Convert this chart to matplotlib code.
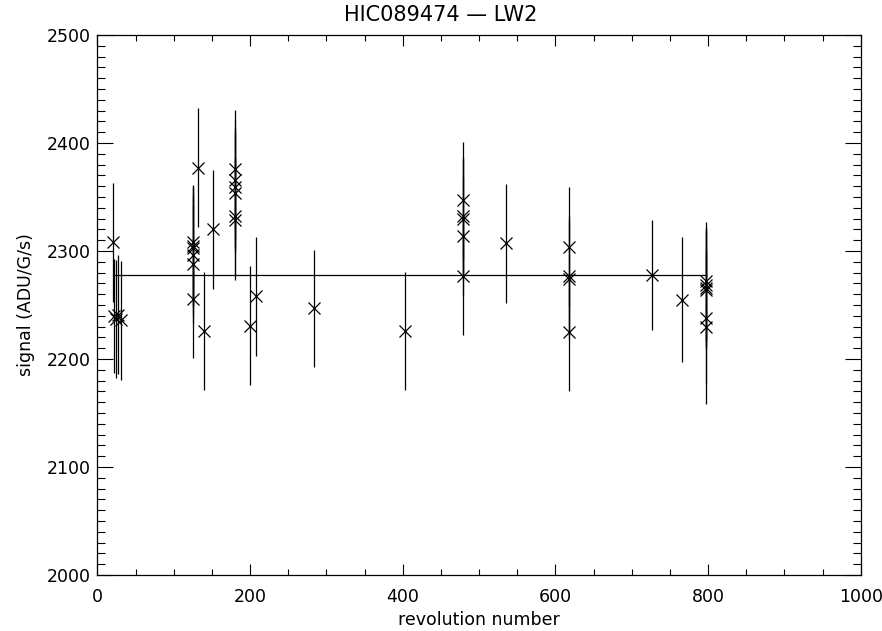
import matplotlib
matplotlib.use("Agg")
import matplotlib.pyplot as plt
from matplotlib.ticker import MultipleLocator
import numpy as np

# revolution number, signal and 1-sigma error
rev = [20, 22, 24, 27, 31,
       125, 125, 125, 125, 125, 125,
       132, 139, 152,
       180, 180, 180, 180, 180, 180,
       200, 208, 284, 403,
       479, 479, 479, 479, 479,
       535,
       618, 618, 618, 618,
       726, 766,
       797, 797, 797, 797, 797, 797]
signal = [2308, 2240, 2237, 2241, 2236,
          2308, 2305, 2303, 2296, 2288, 2256,
          2377, 2226, 2320,
          2376, 2366, 2359, 2354, 2332, 2329,
          2231, 2258, 2247, 2226,
          2347, 2332, 2330, 2314, 2277,
          2307,
          2304, 2277, 2274, 2225,
          2278, 2255,
          2272, 2269, 2266, 2264, 2238, 2230]
error = [55, 53, 55, 55, 55,
         53, 55, 55, 55, 55, 55,
         55, 55, 55,
         55, 55, 55, 55, 55, 56,
         55, 55, 54, 55,
         54, 55, 55, 55, 55,
         55,
         55, 55, 55, 55,
         51, 58,
         55, 52, 55, 55, 60, 72]
mean_level = 2278

title = "HIC089474 \u2014 LW2"

fig = plt.figure(figsize=(8.82, 6.31), dpi=100)
ax = fig.add_axes([0.1105, 0.0887, 0.8655, 0.8558])

ax.errorbar(rev, signal, yerr=error, fmt="none", ecolor="black", elinewidth=0.9)
ax.plot(rev, signal, linestyle="none", marker="x", markersize=9,
        markeredgewidth=0.9, color="black")
ax.plot([min(rev), max(rev)], [mean_level, mean_level], color="black", lw=0.9)

ax.set_xlim(0, 1000)
ax.set_ylim(2000, 2500)
ax.xaxis.set_major_locator(MultipleLocator(200))
ax.xaxis.set_minor_locator(MultipleLocator(50))
ax.yaxis.set_major_locator(MultipleLocator(100))
ax.yaxis.set_minor_locator(MultipleLocator(10))

ax.tick_params(axis="both", which="both", direction="in", top=True, right=True,
               colors="black", labelsize=12.5, width=0.8)
ax.tick_params(axis="x", which="major", length=8, pad=9)
ax.tick_params(axis="x", which="minor", length=4)
ax.tick_params(axis="y", which="major", length=11.5, pad=5)
ax.tick_params(axis="y", which="minor", length=5.8)
for side in ax.spines.values():
    side.set_linewidth(0.9)

ax.set_xlabel("revolution number", fontsize=12.5, labelpad=4)
ax.set_ylabel("signal (ADU/G/s)", fontsize=12.5, labelpad=8)
# IDL-style title sits at the centre of the whole page, not the plot box
fig.text(0.5, 1 - 15 / 631, title, fontsize=15, ha="center", va="center")

fig.savefig("out.png", dpi=100)
